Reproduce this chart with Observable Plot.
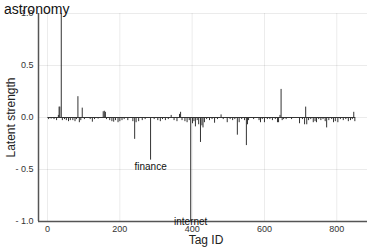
<!DOCTYPE html>
<html>
<head>
<meta charset="utf-8">
<script src="https://cdn.jsdelivr.net/npm/d3@7"></script>
<script src="https://cdn.jsdelivr.net/npm/@observablehq/plot@0.6"></script>
<style>
  html, body { margin: 0; padding: 0; background: #fff; }
  #chart { width: 374px; height: 249px; }
</style>
</head>
<body>
<div id="chart"></div>
<script>
// Tag IDs with non-negligible latent strength (all others ~0)
const tagIds = [3,10,18,25,30,32,34,38,41,47,52,58,63,70,76,80,84,88,92,96,102,118,124,130,140,154,157,160,163,172,178,183,188,195,200,206,212,222,236,241,245,252,262,270,285,295,305,312,318,326,334,342,350,358,365,368,372,380,386,392,396,401,405,409,414,418,423,427,430,434,440,448,455,462,470,480,486,497,505,512,518,525,530,537,545,550,553,556,570,585,589,594,600,608,615,622,630,636,639,643,646,649,653,660,675,697,705,711,714,717,722,728,735,740,744,750,756,762,768,772,778,786,791,796,803,810,818,825,832,838,843,847,850];
const strengths = [-0.02,-0.015,-0.02,-0.03,0.02,0.10,0.10,1.0,-0.03,-0.02,-0.03,-0.04,-0.03,-0.03,-0.04,-0.02,0.2,-0.05,-0.03,0.09,-0.02,-0.02,-0.045,-0.02,-0.015,0.055,0.06,0.05,-0.02,-0.03,-0.04,-0.045,-0.03,-0.05,-0.04,-0.03,-0.02,-0.03,-0.04,-0.21,-0.05,-0.04,-0.03,-0.02,-0.41,-0.02,-0.03,-0.04,-0.02,-0.03,-0.02,0.02,-0.03,-0.04,0.03,0.05,-0.03,-0.04,-0.05,-0.03,-1.0,-0.06,-0.04,-0.09,-0.03,-0.07,-0.24,-0.08,-0.1,-0.05,-0.02,-0.03,-0.02,-0.055,-0.02,0.025,-0.02,-0.05,-0.02,-0.03,-0.02,-0.17,-0.05,-0.02,-0.03,-0.27,-0.07,-0.03,-0.02,-0.03,-0.05,-0.02,-0.05,-0.02,-0.02,-0.03,-0.02,-0.05,-0.05,0.02,0.27,-0.03,-0.02,-0.02,-0.02,-0.06,-0.02,-0.07,0.1,-0.07,-0.03,-0.02,-0.05,-0.04,-0.05,-0.02,-0.03,-0.02,-0.04,-0.1,-0.03,-0.02,-0.05,-0.04,-0.05,-0.02,-0.03,-0.02,-0.04,-0.03,-0.02,0.05,-0.04];
const tagRange = [1, 852];

const labelNames = ["astronomy", "finance", "internet"];
const labelX = [-30, 285, 396];
const labelY = [1.04, -0.47, -1.0];
const labelSizes = [14, 10, 10];

const xTicks = [0, 200, 400, 600, 800];
const yTicks = [-1, -0.5, 0, 0.5, 1];

const spikes = tagIds.map((id, i) => ({id, v: strengths[i]}));
const labels = labelNames.map((name, i) => ({name, x: labelX[i], y: labelY[i], size: labelSizes[i]}));

const fmtY = d => (d < 0 ? "- " + Math.abs(d).toFixed(1) : d.toFixed(1));

const chart = Plot.plot({
  width: 374,
  height: 249,
  marginLeft: 38,
  marginRight: 7,
  marginTop: 13,
  marginBottom: 28,
  style: {fontFamily: "Liberation Sans, Arial, sans-serif", background: "#fff", overflow: "visible"},
  x: {domain: [-25, 885], ticks: xTicks, label: null},
  y: {domain: [-1, 1], ticks: yTicks, label: null},
  marks: [
    Plot.gridX(xTicks, {stroke: "#000", strokeOpacity: 0.08}),
    Plot.gridY(yTicks, {stroke: "#000", strokeOpacity: 0.08}),
    Plot.axisX(xTicks, {tickSize: 0, tickPadding: 4, fontSize: 9, fill: "#333", label: null}),
    Plot.axisY(yTicks, {tickSize: 0, tickPadding: 5, fontSize: 9, fill: "#333", tickFormat: fmtY, label: null}),
    Plot.text(["Latent strength"], {frameAnchor: "left", textAnchor: "middle", dx: -27, rotate: -90, fontSize: 12, fill: "#222"}),
    Plot.text(["Tag ID"], {frameAnchor: "bottom", dx: 3, dy: 22, fontSize: 12, fill: "#222"}),
    Plot.ruleY([0], {x1: tagRange[0], x2: tagRange[1], stroke: "#333", strokeWidth: 1}),
    Plot.ruleX(spikes, {x: "id", y1: 0, y2: "v", stroke: "#333", strokeWidth: 1}),
    Plot.ruleX([-25], {stroke: "#555", strokeWidth: 1.5}),
    Plot.ruleY([-1], {stroke: "#555", strokeWidth: 1.5}),
    Plot.text(labels, {x: "x", y: "y", text: "name", fontSize: "size", fill: "#111"})
  ]
});
document.getElementById("chart").appendChild(chart);
</script>
</body>
</html>
